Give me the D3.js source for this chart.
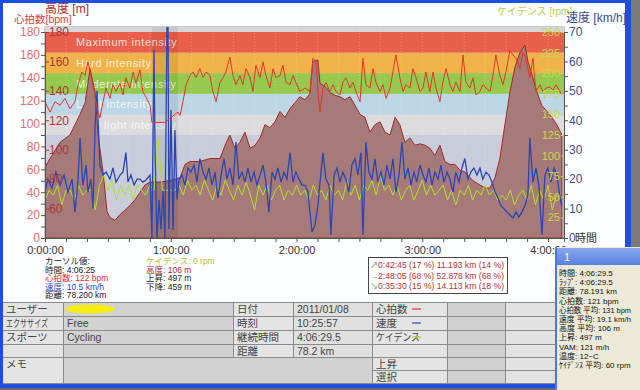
<!DOCTYPE html>
<html lang="ja">
<head>
<meta charset="utf-8">
<title>Cycling log</title>
<script src="https://cdnjs.cloudflare.com/ajax/libs/d3/7.8.5/d3.min.js"></script>
<style>
  body { margin: 0; background: #fff; }
  svg text { font-family: "Liberation Sans", "Noto Sans CJK JP", sans-serif; }
</style>
</head>
<body>
<svg id="chart" width="640" height="390"></svg>
<script>
// ---- data (time in minutes) ----
const hrData = [[0,119],[2.4,110],[4.8,119],[7.2,116],[9.5,122],[11.9,113],[14.3,119],[15.7,134],[17.6,145],[19.1,142],[20.5,154],[21.9,142],[23.4,128],[24.8,114],[26.2,105],[27.7,119],[29.1,131],[31,122],[32.4,134],[33.9,128],[35.8,135],[37.2,125],[38.6,140],[40.5,131],[42,145],[43.4,135],[45.3,147],[46.7,128],[48.2,123],[50.1,116],[51,101],[57.2,101],[63.4,110],[64.4,107],[65.8,119],[67.3,134],[69.2,142],[70.6,145],[72,140],[73.9,148],[75.4,140],[76.8,145],[78.7,142],[80.1,128],[81.6,119],[83.5,136],[84.9,140],[86.3,145],[88.2,158],[89.7,142],[91.1,134],[93,142],[94.4,134],[95.9,148],[97.8,140],[99.2,128],[100.6,151],[102.6,140],[104,154],[105.4,142],[107.3,131],[108.8,148],[110.2,140],[112.1,142],[113.5,151],[115,136],[116.9,134],[118.3,142],[119.7,136],[121.6,128],[124,131],[126.4,128],[127.8,157],[129.3,154],[130.2,128],[131.2,110],[132.6,131],[134,136],[135.9,128],[137.4,134],[138.8,128],[140.7,125],[142.1,136],[143.6,140],[145.5,131],[146.9,136],[148.3,128],[150.3,119],[151.7,157],[153.1,134],[155,131],[156.5,148],[157.9,136],[159.8,128],[161.2,134],[162.7,122],[164.6,131],[166,145],[167.4,160],[169.3,140],[170.8,128],[172.2,134],[174.1,131],[175.5,148],[177,140],[178.9,128],[180.3,131],[181.7,145],[183.6,128],[185.1,145],[186.5,131],[188.4,119],[189.8,136],[191.3,148],[193.2,134],[194.6,128],[196,136],[198,128],[199.4,160],[200.8,136],[202.7,131],[204.2,140],[205.6,125],[207.5,128],[208.9,134],[210.4,131],[212.3,128],[213.7,142],[215.1,160],[217,142],[218.5,134],[219.9,145],[221.8,164],[223.2,160],[224.7,157],[226.6,148],[228,162],[229.4,157],[231.3,140],[232.8,157],[234.2,128],[236.1,134],[237.5,128],[239,131],[240.9,132],[242.3,129],[243.7,134],[245.7,128],[246.5,125]];

const altData = [[0,88],[2.4,94],[7.2,105],[11.9,110],[16.7,124],[19.1,132],[21.5,155],[23.9,139],[25.3,110],[27.7,85],[29.6,58],[31,54],[33.4,52],[35.8,56],[38.2,59],[40.5,62],[42.9,66],[45.3,71],[47.7,76],[50.1,78],[54.9,78],[59.6,79],[64.4,81],[66.8,90],[69.2,92],[73.9,92],[78.7,94],[83.5,94],[85.9,103],[88.2,110],[90.6,101],[93,105],[95.4,112],[97.8,101],[100.2,103],[102.6,108],[104.9,117],[107.3,115],[109.7,119],[112.1,126],[114.5,122],[116.9,128],[119.3,132],[121.6,136],[124,134],[126.4,138],[127.8,160],[130.2,161],[131.2,145],[133.6,143],[135.9,139],[138.3,137],[140.7,136],[143.1,134],[145.5,136],[147.9,130],[150.3,124],[152.6,122],[155,112],[157.4,117],[159.8,119],[162.2,112],[164.6,110],[167,122],[169.3,117],[171.7,105],[174.1,108],[176.5,103],[178.9,104],[181.3,103],[183.6,101],[186,96],[188.4,103],[190.8,92],[193.2,90],[195.6,90],[198,86],[200.3,85],[202.7,81],[205.1,78],[207.5,76],[209.9,74],[212.3,74],[214.7,81],[217,94],[219.4,117],[221.8,139],[224.2,156],[226.6,166],[229,171],[230.4,160],[232.3,151],[234.7,139],[237.1,130],[239.5,126],[241.8,122],[244.2,117],[246.6,110]];

const speedData = [[0,15.6],[1.4,20],[3.3,17],[5.2,22.4],[7.2,18],[9.1,21.4],[11,15.6],[12.9,20],[14.3,8.8],[15.7,19],[16.7,34],[18.1,18],[19.6,24.8],[20.5,15.6],[21.9,20],[22.9,10],[23.9,38],[24.8,50],[26.2,24.8],[27.7,21.4],[29.1,22.4],[31,20],[32.4,23.8],[33.9,19],[35.8,21.4],[37.2,22.4],[38.6,29],[39.6,19],[41,21.4],[42.5,18],[43.9,20],[45.3,20],[46.7,19],[48.2,19.7],[50.1,21.4],[51,0],[52,64],[52.5,30],[53.4,0],[54.4,13],[55.3,3],[56.3,16],[57.2,0],[58.2,72],[58.7,72],[59.1,3],[60.1,43.5],[61.1,2.7],[62,36.7],[63,13],[63.9,19.7],[65.3,21.4],[66.8,18],[68.2,23.8],[69.6,22.4],[71.1,24.8],[72.5,19],[73.9,27],[75.4,22.4],[76.8,20],[78.2,23.8],[79.7,18],[81.1,22.4],[82.5,13.6],[84,21.4],[85.4,27],[86.8,20],[88.2,23.8],[89.7,18],[91.1,32.6],[92.5,20],[94,22.4],[95.4,19],[96.8,23.8],[98.3,19],[99.7,22.4],[101.1,18],[102.6,21.4],[104,24.8],[105.4,19],[106.8,8.8],[108.3,22.4],[109.7,20],[111.1,23.8],[112.6,19],[114,22.4],[115.4,20],[116.9,29],[118.3,19],[119.7,22.4],[121.2,20],[122.6,18],[124,18],[125.5,15.6],[126.4,8.8],[127.4,2],[128.8,4.4],[130.2,11],[131.2,19],[132.6,29],[134,20],[135.5,18],[136.4,1],[137.9,21.4],[139.3,23.8],[140.7,19],[142.1,22.4],[143.6,20],[145,15.6],[146.4,24.8],[147.9,27],[149.3,21.4],[150.7,29],[151.7,1],[153.1,32.6],[154.5,22.4],[156,20],[157.4,27],[158.8,19],[160.3,22.4],[161.7,18],[163.1,24.8],[164.6,20],[166,27],[167.4,15.6],[168.9,21.4],[170.3,32.6],[171.7,20],[173.2,23.8],[174.6,18],[176,22.4],[177.4,19],[178.9,24.8],[180.3,21.4],[181.7,19],[183.2,23.8],[184.6,18],[186,22.4],[187.5,20],[188.9,24.8],[190.3,19],[191.8,22.4],[193.2,20],[194.6,15.6],[196,22.4],[197.5,19],[198.9,23.8],[200.3,27],[201.8,20],[203.2,22.4],[204.6,23.8],[206.1,21.4],[207.5,23.8],[208.9,20],[210.4,22.4],[211.8,21.4],[213.2,19],[214.7,15.6],[216.1,13.6],[217.5,11],[218.9,10],[220.4,8.8],[221.8,7.8],[223.2,6.8],[224.7,8.8],[226.1,7.1],[227.5,8.8],[229,11],[230.4,14.6],[231.3,34],[232.8,19],[234.2,23.8],[235.6,18],[237.1,1],[238.5,21.4],[239.9,23.8],[241.4,19],[242.8,23.8],[244.2,21.4],[245.7,13.6],[246.5,11]];

const cadStep = 2; // minutes between cadence samples
const cadValues = [46,58,52,64,40,58,58,46,64,52,58,58,34,64,76,58,70,46,64,52,64,46,64,58,52,64,58,120,58,58,58,58,64,52,70,58,64,52,70,58,46,64,52,70,58,46,64,52,68,52,34,64,52,64,46,58,64,46,58,52,64,52,58,46,64,52,58,46,64,52,58,46,70,52,64,46,64,58,70,52,76,58,64,52,64,46,58,64,46,58,70,52,64,52,58,64,46,58,40,58,52,64,46,58,52,64,52,58,46,52,46,58,40,52,58,46,64,40,58,46,64,34,52,46];

const zoneBounds = [90, 108, 126, 144, 162, 180];
const zoneNames = ["Very light intensity", "Light intensity", "Moderate intensity", "Hard intensity", "Maximum intensity"];
const zoneColors = ["#dcdcde", "#bdd6e6", "#96c94e", "#f1b24a", "#e8604c"];

const hourLabels = ["0:00:00", "1:00:00", "2:00:00", "3:00:00", "4:00:00"];

const cursorLeft = [["カーソル値:", "#222"], ["時間: 4:06:25", "#222"], ["心拍数: 122 bpm", "#e03030"], ["速度: 10.5 km/h", "#2848c0"], ["距離: 78.200 km", "#222"]];
const cursorRight = [["ケイデンス: 0 rpm", "#a8c830"], ["高度: 106 m", "#b02828"], ["上昇: 497 m", "#222"], ["下降: 459 m", "#222"]];

const splitArrows = ["↗", "→", "↘"];
const splitTimes = ["0:42:45", "2:48:05", "0:35:30"];
const splitTimePct = ["(17 %)", "(68 %)", "(15 %)"];
const splitDist = ["11.193 km", "52.878 km", "14.113 km"];
const splitDistPct = ["(14 %)", "(68 %)", "(18 %)"];

const tableLabels1 = ["ユーザー", "エクササイズ", "スポーツ", ""];
const tableValues1 = ["", "Free", "Cycling", ""];
const tableLabels2 = ["日付", "時刻", "継続時間", "距離"];
const tableValues2 = ["2011/01/08", "10:25:57", "4:06:29.5", "78.2 km"];
const tableLabels3 = ["心拍数", "速度", "ケイデンス", "", "上昇", "選択"];
const tableDash3 = ["#e03030", "#2848c0", "#a8d030", null, null, null];

const popupLines = ["時間: 4:06:29.5", "ﾗｯﾌﾟ: 4:06:29.5", "距離: 78.191 km", "心拍数: 121 bpm", "心拍数 平均: 131 bpm", "速度 平均: 19.1 km/h", "高度 平均: 106 m", "上昇: 497 m", "VAM: 121 m/h", "温度: 12~C", "ｹｲﾃﾞﾝｽ 平均: 60 rpm"];

// ---- layout ----
const L = 45, R = 564, T = 27, B = 238;
const svg = d3.select("#chart");

// squeeze a text into a width if it is wider
function fit(sel, maxW) {
  sel.each(function () {
    if (this.getComputedTextLength() > maxW) {
      d3.select(this).attr("textLength", maxW).attr("lengthAdjust", "spacingAndGlyphs");
    }
  });
  return sel;
}

const x = d3.scaleLinear().domain([0, 247.6]).range([L, R]);
const yHr = d3.scaleLinear().domain([0, 180]).range([B, 32]);
const yAlt = d3.scaleLinear().domain([40, 180]).range([B, 32]);
const ySpd = d3.scaleLinear().domain([0, 70]).range([B, 32]);
const yCad = d3.scaleLinear().domain([0, 250]).range([B, 32]);

// window background
svg.append("rect").attr("width", 640).attr("height", 390).attr("fill", "#fcfdff");

const defs = svg.append("defs");
defs.append("clipPath").attr("id", "plotclip")
  .append("rect").attr("x", L).attr("y", T).attr("width", R - L).attr("height", B - T);

// plot background
svg.append("rect").attr("x", L).attr("y", T).attr("width", R - L).attr("height", B - T)
  .attr("fill", "#c9ccda").attr("stroke", "#9a9a9a");
svg.append("rect").attr("x", L).attr("y", T).attr("width", R - L).attr("height", yHr(180) - T)
  .attr("fill", "#d6d6d8");

// heart rate zones
const zones = svg.append("g");
zoneNames.forEach((name, i) => {
  zones.append("rect")
    .attr("x", L).attr("width", R - L)
    .attr("y", yHr(zoneBounds[i + 1]))
    .attr("height", yHr(zoneBounds[i]) - yHr(zoneBounds[i + 1]))
    .attr("fill", zoneColors[i]);
  zones.append("text")
    .attr("x", 76)
    .attr("y", (yHr(zoneBounds[i]) + yHr(zoneBounds[i + 1])) / 2 + 4)
    .attr("fill", "#fff").attr("fill-opacity", 0.8)
    .attr("font-size", 11).attr("letter-spacing", 0.6)
    .text(name);
});

// faint vertical grid every 10 min
svg.append("g").selectAll("line").data(d3.range(10, 247, 10)).join("line")
  .attr("x1", d => x(d)).attr("x2", d => x(d)).attr("y1", T).attr("y2", B)
  .attr("stroke", "#fff").attr("stroke-opacity", 0.25).attr("stroke-dasharray", "1,2");

const plot = svg.append("g").attr("clip-path", "url(#plotclip)");

// altitude area
plot.append("path").datum(altData)
  .attr("fill", "#a67a78")
  .attr("stroke", "#9c2c28").attr("stroke-width", 1)
  .attr("d", d3.area().x(d => x(d[0])).y0(B).y1(d => yAlt(d[1])));

// pause band around 1:00
plot.append("rect").attr("x", x(51)).attr("width", x(63.4) - x(51)).attr("y", T).attr("height", B - T)
  .attr("fill", "#000").attr("fill-opacity", 0.07);

// cadence
plot.append("path").datum(cadValues)
  .attr("fill", "none").attr("stroke", "#b2e02a").attr("stroke-width", 1)
  .attr("d", d3.line().x((d, i) => x(i * cadStep)).y(d => yCad(d)));

// speed
plot.append("path").datum(speedData)
  .attr("fill", "none").attr("stroke", "#2a46b4").attr("stroke-width", 1.3)
  .attr("d", d3.line().x(d => x(d[0])).y(d => ySpd(d[1])));

// heart rate
plot.append("path").datum(hrData)
  .attr("fill", "none").attr("stroke", "#e0382a").attr("stroke-width", 1)
  .attr("d", d3.line().x(d => x(d[0])).y(d => yHr(d[1])));

// ---- axes ----
const axisColor = "#555";
// left: heart rate
const axL = svg.append("g").attr("transform", `translate(${L},0)`)
  .call(d3.axisLeft(yHr).tickValues(d3.range(0, 181, 10)).tickSize(4)
    .tickFormat(d => d % 20 === 0 ? d : ""));
axL.select(".domain").attr("stroke", axisColor);
axL.selectAll("line").attr("stroke", axisColor);
axL.selectAll("text").attr("fill", "#e07068").attr("font-size", 12).attr("x", -5);

// altitude labels inside plot
const alt = svg.append("g").attr("transform", `translate(${L},0)`)
  .call(d3.axisRight(yAlt).tickValues(d3.range(60, 181, 20)).tickSize(4));
alt.select(".domain").remove();
alt.selectAll("line").attr("stroke", "#a83838");
alt.selectAll("text").attr("fill", "#a83838").attr("font-size", 12).attr("x", 4);

// right: speed
const axR = svg.append("g").attr("transform", `translate(${R},0)`)
  .call(d3.axisRight(ySpd).tickValues(d3.range(0, 71, 5)).tickSize(4)
    .tickFormat(d => d % 10 === 0 ? d : ""));
axR.select(".domain").attr("stroke", axisColor);
axR.selectAll("line").attr("stroke", axisColor);
axR.selectAll("text").attr("fill", "#40508e").attr("font-size", 12).attr("x", 5);

// cadence labels inside plot
const cad = svg.append("g").attr("transform", `translate(${R},0)`)
  .call(d3.axisLeft(yCad).tickValues(d3.range(25, 251, 25)).tickSize(3));
cad.select(".domain").remove();
cad.selectAll("line").attr("stroke", "#c8d44a");
cad.selectAll("text").attr("fill", "#cad650").attr("font-size", 11).attr("x", -4);

// bottom: time
const axB = svg.append("g").attr("transform", `translate(0,${B})`)
  .call(d3.axisBottom(x).tickValues(d3.range(0, 247, 10)).tickSize(4)
    .tickFormat(d => d % 60 === 0 ? hourLabels[d / 60] : ""));
axB.select(".domain").attr("stroke", axisColor);
axB.selectAll("line").attr("stroke", axisColor);
axB.selectAll("text").attr("fill", "#333").attr("font-size", 11).attr("y", 8).attr("dy", "0.71em");

svg.append("text").attr("x", 575).attr("y", 242).attr("font-size", 11).attr("fill", "#333").text("時間");

// axis titles
svg.append("text").attr("x", 45).attr("y", 13).attr("font-size", 12).attr("fill", "#b02828").text("高度 [m]");
svg.append("text").attr("x", 14).attr("y", 23).attr("font-size", 10.5).attr("fill", "#e04040").text("心拍数[bpm]");
svg.append("text").attr("x", 497).attr("y", 15).attr("font-size", 10).attr("fill", "#b8d040").text("ケイデンス [rpm]");
svg.append("text").attr("x", 566).attr("y", 22).attr("font-size", 12).attr("fill", "#3c4c8c").text("速度 [km/h]");

// ---- cursor values ----
const cur = svg.append("g").attr("font-size", 8.5);
cursorLeft.forEach((d, i) => {
  cur.append("text").attr("x", 45).attr("y", 264 + i * 8.6).attr("fill", d[1]).text(d[0]);
});
cursorRight.forEach((d, i) => {
  cur.append("text").attr("x", 146).attr("y", 264 + i * 8.6).attr("fill", d[1]).text(d[0]);
});

// ---- splits box ----
const sp = svg.append("g").attr("font-size", 10);
sp.append("rect").attr("x", 368.5).attr("y", 257.5).attr("width", 139).attr("height", 36)
  .attr("fill", "#fff").attr("stroke", "#444");
splitTimes.forEach((t, i) => {
  const yy = 268 + i * 10.5;
  sp.append("text").attr("x", 370).attr("y", yy).attr("fill", "#20a070").attr("font-size", 8).text(splitArrows[i]);
  fit(sp.append("text").attr("x", 378).attr("y", yy).attr("fill", "#b83030").attr("font-size", 9.5)
    .text(`${t} ${splitTimePct[i]} ${splitDist[i]} ${splitDistPct[i]}`), 126);
});

// ---- info table ----
const rowY = [302, 316, 330, 344, 357, 370, 383];
const tb = svg.append("g").attr("font-size", 10.5);
function cell(x0, x1, y0, y1, fill) {
  tb.append("rect").attr("x", x0 + 0.5).attr("y", y0 + 0.5).attr("width", x1 - x0).attr("height", y1 - y0)
    .attr("fill", fill).attr("stroke", "#8a8a8a");
}
function label(xx, yy, t, maxW) {
  return fit(tb.append("text").attr("x", xx).attr("y", yy).attr("fill", "#444").text(t), maxW);
}
for (let r = 0; r < 4; r++) {
  cell(2, 63, rowY[r], rowY[r + 1], "#e4e4e4");
  cell(63, 233, rowY[r], rowY[r + 1], "#d2d2d2");
  cell(233, 293, rowY[r], rowY[r + 1], "#e4e4e4");
  cell(293, 372, rowY[r], rowY[r + 1], "#e0e0e0");
  label(6, rowY[r] + 11, tableLabels1[r], 42);
  label(67, rowY[r] + 11, tableValues1[r], 150);
  label(237, rowY[r] + 11, tableLabels2[r], 48);
  label(297, rowY[r] + 11, tableValues2[r], 72);
}
cell(2, 63, rowY[4], rowY[6], "#e4e4e4");
cell(63, 372, rowY[4], rowY[6], "#d2d2d2");
label(6, rowY[4] + 11, "メモ", 40);
tableLabels3.forEach((t, r) => {
  cell(372, 447, rowY[r], rowY[r + 1], "#e4e4e4");
  cell(447, 505, rowY[r], rowY[r + 1], "#d0d0d0");
  cell(505, 560, rowY[r], rowY[r + 1], "#e2e2e2");
  label(376, rowY[r] + 11, t, 44);
  if (tableDash3[r]) {
    tb.append("line").attr("x1", 412).attr("x2", 421).attr("y1", rowY[r] + 7).attr("y2", rowY[r] + 7)
      .attr("stroke", tableDash3[r]).attr("stroke-width", 1.2);
  }
});
// hidden user name
tb.append("ellipse").attr("cx", 90).attr("cy", 309).attr("rx", 25).attr("ry", 4.5).attr("fill", "#f6ee10");

// window frame
svg.append("rect").attr("x", 0).attr("y", 0).attr("width", 628).attr("height", 3).attr("fill", "#1c4fdc");
svg.append("rect").attr("x", 0).attr("y", 0).attr("width", 3).attr("height", 388).attr("fill", "#1c4fdc");
svg.append("rect").attr("x", 625).attr("y", 0).attr("width", 6).attr("height", 388).attr("fill", "#1c4fdc");
svg.append("rect").attr("x", 631).attr("y", 0).attr("width", 9).attr("height", 390).attr("fill", "#7a7a7a");
svg.append("rect").attr("x", 0).attr("y", 384).attr("width", 631).attr("height", 4).attr("fill", "#1c4fdc");
svg.append("rect").attr("x", 0).attr("y", 388).attr("width", 640).attr("height", 2).attr("fill", "#6a6a6a");

// ---- popup ----
const pop = svg.append("g");
pop.append("rect").attr("x", 555).attr("y", 247).attr("width", 85).attr("height", 143).attr("fill", "#ece9d8");
pop.append("rect").attr("x", 555).attr("y", 247).attr("width", 2).attr("height", 143).attr("fill", "#4a78e0");
const grad = defs.append("linearGradient").attr("id", "tbar").attr("x1", 0).attr("x2", 0).attr("y1", 0).attr("y2", 1);
grad.append("stop").attr("offset", 0).attr("stop-color", "#8aa8ee");
grad.append("stop").attr("offset", 1).attr("stop-color", "#5680e0");
pop.append("rect").attr("x", 557).attr("y", 248).attr("width", 83).attr("height", 17).attr("fill", "url(#tbar)");
pop.append("text").attr("x", 564).attr("y", 261).attr("fill", "#fff").attr("font-size", 11).text("1");
popupLines.forEach((t, i) => {
  fit(pop.append("text").attr("x", 559).attr("y", 276 + i * 9.2).attr("font-size", 8).attr("fill", "#111").text(t), 72);
});
</script>
</body>
</html>
